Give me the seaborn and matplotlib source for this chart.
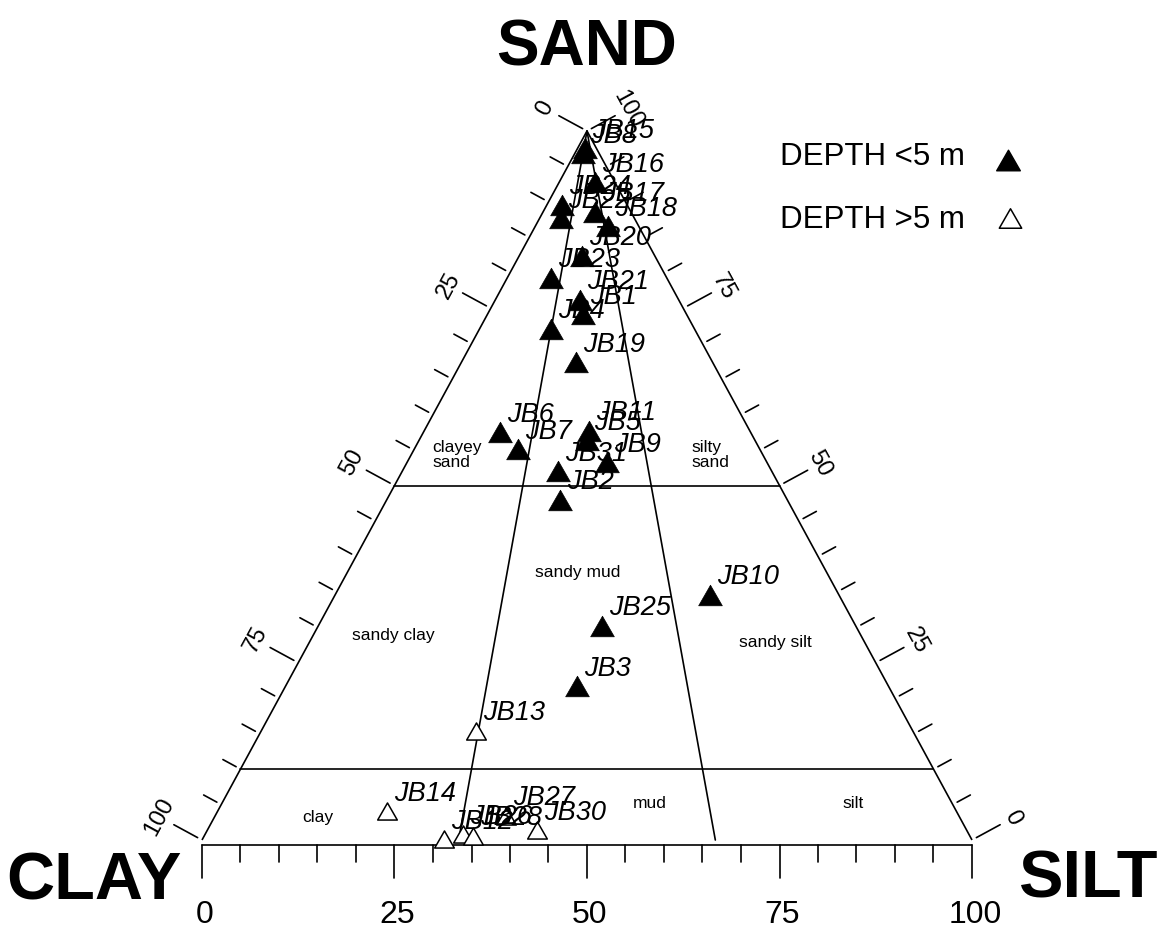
import numpy as np
import pandas as pd
import matplotlib
matplotlib.use("Agg")
import matplotlib.pyplot as plt
from matplotlib.path import Path
import seaborn as sns

sns.set_style("white")
plt.rcParams["font.family"] = ["Liberation Sans", "DejaVu Sans"]
plt.rcParams["text.color"] = "black"

# ---------------------------------------------------------------------------
# Grain-size composition (%) of the samples
# ---------------------------------------------------------------------------
shallow_ids = ["JB15", "JB8", "JB16", "JB24", "JB22", "JB17", "JB18", "JB20",
               "JB23", "JB21", "JB1", "JB4", "JB19", "JB6", "JB7", "JB11",
               "JB5", "JB9", "JB31", "JB2", "JB10", "JB25", "JB3"]
shallow_sand = [97.6, 96.9, 92.8, 89.6, 87.7, 88.6, 86.6, 82.4, 79.3, 76.2, 74.2,
                72.1, 67.4, 57.5, 55.1, 57.7, 56.4, 53.3, 52.0, 48.0, 34.6, 30.2, 21.7]
shallow_silt = [0.9, 1.0, 4.6, 2.0, 2.8, 6.7, 9.4, 8.2, 5.7, 11.0, 12.4,
                9.3, 14.9, 10.0, 13.5, 21.4, 21.8, 26.0, 20.2, 22.5, 48.7, 36.8, 37.9]
shallow_clay = [1.5, 2.1, 2.6, 8.4, 9.5, 4.7, 4.0, 9.4, 15.0, 12.8, 13.4,
                18.6, 17.7, 32.5, 31.4, 20.9, 21.8, 20.7, 27.8, 29.5, 16.7, 33.0, 40.4]

deep_ids = ["JB13", "JB14", "JB27", "JB30", "JB12", "JB26", "JB28"]
deep_sand = [15.4, 4.1, 3.4, 1.4, 0.1, 0.8, 0.6]
deep_silt = [27.9, 22.0, 37.8, 42.8, 31.4, 33.5, 34.9]
deep_clay = [56.7, 73.9, 58.8, 55.8, 68.5, 65.7, 64.5]

# Class boundaries: sand % (horizontal lines) and silt share of the mud (apex rays)
sand_limits = [50, 10]
mud_ratios = [1 / 3, 2 / 3]

# Class names: (text, silt-axis position, sand %, alignment)
class_names = [("clayey\nsand", 29.9, 54.3, "left"), ("silty\nsand", 63.6, 54.3, "left"),
               ("sandy mud", 48.8, 37.7, "center"), ("sandy clay", 24.9, 28.9, "center"),
               ("sandy silt", 74.5, 27.9, "center"), ("clay", 15.1, 3.2, "center"),
               ("mud", 58.2, 5.2, "center"), ("silt", 84.5, 5.2, "center")]

tick_values = list(range(0, 101, 5))
tick_labels = ["0", "25", "50", "75", "100"]


def to_plane(sand, silt, clay):
    sand, silt, clay = map(np.asarray, (sand, silt, clay))
    tot = sand + silt + clay
    return 100 * (silt + sand / 2) / tot, 100 * sand / tot


sx, sy = to_plane(shallow_sand, shallow_silt, shallow_clay)
dx, dy = to_plane(deep_sand, deep_silt, deep_clay)
shallow = pd.DataFrame({"sample": shallow_ids, "x": sx, "y": sy})
deep = pd.DataFrame({"sample": deep_ids, "x": dx, "y": dy})

# ---------------------------------------------------------------------------
# Figure / axes: the axes fill the canvas, triangle placed by its limits
# ---------------------------------------------------------------------------
W, H = 1170, 932
LEFT_PX, RIGHT_PX, BASE_PX, APEX_PX = 202, 972, 840, 131
SX = (RIGHT_PX - LEFT_PX) / 100.0
SY = (BASE_PX - APEX_PX) / 100.0

fig = plt.figure(figsize=(W / 100, H / 100), dpi=100)
ax = fig.add_axes([0, 0, 1, 1])
ax.set_xlim(-LEFT_PX / SX, (W - LEFT_PX) / SX)
ax.set_ylim(-(H - BASE_PX) / SY, BASE_PX / SY)
ax.axis("off")


def px(dxp, dyp):
    """pixel offset -> data offset"""
    return dxp / SX, dyp / SY


LW = 1.2
INK = "black"

# Triangle sides
ax.plot([0, 50, 100], [0, 100, 0], color=INK, lw=LW, solid_capstyle="butt")
# Bottom axis (slightly below the base)
off_b = px(0, -5)[1]
ax.plot([0, 100], [off_b, off_b], color=INK, lw=LW)

# Horizontal sand limits
for s in sand_limits:
    ax.plot([s / 2, 100 - s / 2], [s, s], color=INK, lw=LW)
# Rays from the sand apex
for r in mud_ratios:
    ax.plot([50, 100 * r], [100, 0], color=INK, lw=LW)

# Side normals in pixel space
side_len = np.hypot(50 * SX, 100 * SY)
nL = np.array([-100 * SY, 50 * SX]) / side_len
nR = np.array([100 * SY, 50 * SX]) / side_len
angle = np.degrees(np.arctan2(100 * SY, 50 * SX))

GAP, MAJ, MIN = 5, 27, 15
for v in tick_values:
    major = v % 25 == 0
    L = MAJ if major else MIN
    # bottom (silt %)
    ax.plot([v, v], [off_b, off_b - px(0, L + 6 if major else L + 2)[1]],
            color=INK, lw=LW)
    # left (clay %)
    p = np.array([(100 - v) / 2, 100 - v])
    a = p + np.array(px(*(nL * GAP)))
    b = p + np.array(px(*(nL * (GAP + L))))
    ax.plot([a[0], b[0]], [a[1], b[1]], color=INK, lw=LW)
    # right (sand %)
    q = np.array([100 - v / 2, v])
    a = q + np.array(px(*(nR * GAP)))
    b = q + np.array(px(*(nR * (GAP + L))))
    ax.plot([a[0], b[0]], [a[1], b[1]], color=INK, lw=LW)

for lab in tick_labels:
    v = int(lab)
    ax.text(v + px(3, 0)[0], px(0, -75)[1], lab, ha="center", va="center",
            fontsize=23)
    p = np.array([(100 - v) / 2, 100 - v]) + np.array(px(*(nL * 48)))
    ax.text(p[0], p[1], lab, ha="center", va="center", rotation=angle,
            rotation_mode="anchor", fontsize=17)
    q = np.array([100 - v / 2, v]) + np.array(px(*(nR * 46)))
    ax.text(q[0], q[1], lab, ha="center", va="center", rotation=-angle,
            rotation_mode="anchor", fontsize=17)

# Class names
for txt, x, y, ha in class_names:
    ax.text(x, y, txt, ha=ha, va="center", fontsize=12.5, linespacing=1.05)

# Vertex titles
ax.text(0.5015, 1 - 65 / H, "SAND", transform=ax.transAxes, ha="center",
        va="baseline", fontsize=46, fontweight="bold")
ax.text(182 / W, 1 - 900 / H, "CLAY", transform=ax.transAxes, ha="right",
        va="baseline", fontsize=48, fontweight="bold")
ax.text(1158 / W, 1 - 898 / H, "SILT", transform=ax.transAxes, ha="right",
        va="baseline", fontsize=48, fontweight="bold")

# Samples
TRI = Path([(0, 0.87), (-1, -0.87), (1, -0.87), (0, 0.87)], closed=True)
sns.scatterplot(data=shallow, x="x", y="y", ax=ax, marker=TRI, s=290,
                color=INK, edgecolor=INK, linewidth=0.5, zorder=4, legend=False)
sns.scatterplot(data=deep, x="x", y="y", ax=ax, marker=TRI, s=200,
                facecolor="white", edgecolor=INK, linewidth=1.1, zorder=4,
                legend=False)

for df in (shallow, deep):
    for _, r in df.iterrows():
        ax.annotate(r["sample"], (r["x"], r["y"]), xytext=(5, 7.5),
                    textcoords="offset points", ha="left", va="baseline",
                    fontsize=19.5, fontstyle="italic", zorder=5)

# Legend
ax.text(780 / W, 1 - 165 / H, "DEPTH <5 m", transform=ax.transAxes,
        ha="left", va="baseline", fontsize=22.5)
ax.text(780 / W, 1 - 228 / H, "DEPTH >5 m", transform=ax.transAxes,
        ha="left", va="baseline", fontsize=22.5)
ax.scatter([1008 / W], [1 - 160 / H], transform=ax.transAxes, marker=TRI,
           s=290, color=INK, zorder=4)
ax.scatter([1010 / W], [1 - 218 / H], transform=ax.transAxes, marker=TRI,
           s=260, facecolor="white", edgecolor=INK, linewidth=1.1, zorder=4)

fig.savefig("out.png", dpi=100)
